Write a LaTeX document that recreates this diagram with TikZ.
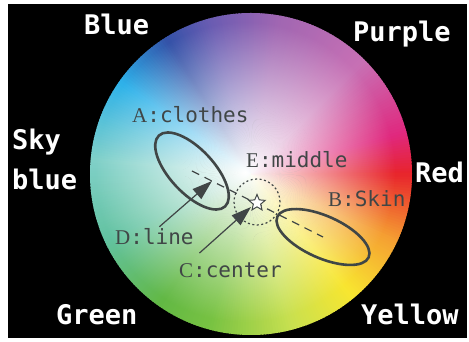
\documentclass[tikz,border=0pt]{standalone}
\usepackage{fontspec}
\usetikzlibrary{shapes.geometric,arrows.meta,fadings}
\newfontfamily\monofam{DejaVu Sans Mono}
\newfontfamily\seriffam{Liberation Serif}
\newcommand{\outfont}{\monofam\bfseries\fontsize{27}{40}\selectfont}
\newcommand{\labfont}{\monofam\fontsize{21}{24}\selectfont}
\newcommand{\capl}[1]{{\seriffam #1}}
\definecolor{labgray}{RGB}{64,70,70}
\definecolor{wRed}{HTML}{E8242C}
\definecolor{wMag}{HTML}{E0287E}
\definecolor{wPink}{HTML}{C870B4}
\definecolor{wPurp}{HTML}{A066B2}
\definecolor{wViol}{HTML}{6A5CB2}
\definecolor{wBlue}{HTML}{3452A8}
\definecolor{wSky}{HTML}{2EB2EA}
\definecolor{wTeal}{HTML}{80D0C8}
\definecolor{wSea}{HTML}{62C2A0}
\definecolor{wGreen}{HTML}{62B844}
\definecolor{wLime}{HTML}{78C242}
\definecolor{wYG}{HTML}{C8E050}
\definecolor{wYel}{HTML}{F8E630}
\definecolor{wOra}{HTML}{F5A032}
\tikzfading[name=glow, inner color=transparent!0, outer color=transparent!100]

\begin{document}
\begin{tikzpicture}[x=1pt, y=1pt,
        ring/.style={draw=labgray, line width=2.6pt, ellipse, inner sep=0pt},
        lab/.style={text=labgray, anchor=base west, inner sep=0pt, font=\labfont},
        outer/.style={text=white, anchor=base west, inner sep=0pt, font=\outfont, align=left},
        arrow/.style={-{Triangle[length=20pt, width=13pt]}, draw=labgray, fill=labgray, line width=1.2pt}
    ]
\useasboundingbox (0,0) rectangle (469,342);
\fill[black] (8,4) rectangle (467,338);

\begin{scope}
\clip (251,168) circle (161);
\foreach \ta/\tb/\ca/\cb in {0/15/wRed/wMag, 15/45/wMag/wPink, 45/80/wPink/wPurp,
        80/105/wPurp/wViol, 105/122/wViol/wBlue, 122/145/wBlue/wSky, 145/175/wSky/wTeal,
        175/205/wTeal/wSea, 205/235/wSea/wGreen, 235/255/wGreen/wLime, 255/285/wLime/wYG,
        285/310/wYG/wYel, 310/335/wYel/wOra, 335/360/wOra/wRed}{
    \pgfmathtruncatemacro\nsteps{\tb-\ta-1}
    \foreach \k in {0,...,\nsteps}{
        \pgfmathsetmacro\mixp{100*(\k+0.5)/(\tb-\ta)}
        \pgfmathsetmacro\ang{\ta+\k}
        \colorlet{wc}{\cb!\mixp!\ca}
        \fill[wc] (251,168) -- ++(\ang:170) arc[start angle=\ang, delta angle=1.4, radius=170] -- cycle;
    }
}
\fill[white, path fading=glow] (245,170) circle (150);
\end{scope}

\node[ring, minimum width=97pt, minimum height=44pt, rotate=-47] (clothes) at (192,171) {};
\node[ring, minimum width=100pt, minimum height=42pt, rotate=-24] (skin) at (323,105) {};
\draw[labgray, line width=1.2pt, dash pattern=on 8pt off 6pt] (clothes.center) -- (skin.center);
\node[circle, draw=labgray, dash pattern=on 2pt off 2.5pt, line width=1.2pt, minimum size=46pt] (middle) at (257,140) {};
\node[star, star points=5, star point ratio=2.2, draw=labgray, fill=white, line width=1pt, minimum size=17pt, inner sep=0pt] (star) at (257,139) {};

\node[lab] (clab) at (132,219) {\capl{A}:clothes};
\node[lab] (elab) at (246,174) {\capl{E}:middle};
\node[lab] (blab) at (328,135) {\capl{B}:Skin};
\node[lab] (dlab) at (115,97) {\capl{D}:line};
\node[lab] (cclab) at (179,64) {\capl{C}:center};

\coordinate (dtip) at (212,161);
\coordinate (ctip) at (251,135);
\draw[arrow] ([xshift=5pt, yshift=2pt]dlab.north) -- (dtip);
\draw[arrow] ([xshift=-31pt, yshift=10pt]cclab.north) -- (ctip);

\node[outer] (blue) at (84,307) {Blue};
\node[outer] (purple) at (353,300) {Purple};
\node[outer] (sky) at (12,152) {Sky\\blue};
\node[outer] (red) at (415,159) {Red};
\node[outer] (green) at (56,17) {Green};
\node[outer] (yellow) at (361,17) {Yellow};

\end{tikzpicture}
\end{document}
